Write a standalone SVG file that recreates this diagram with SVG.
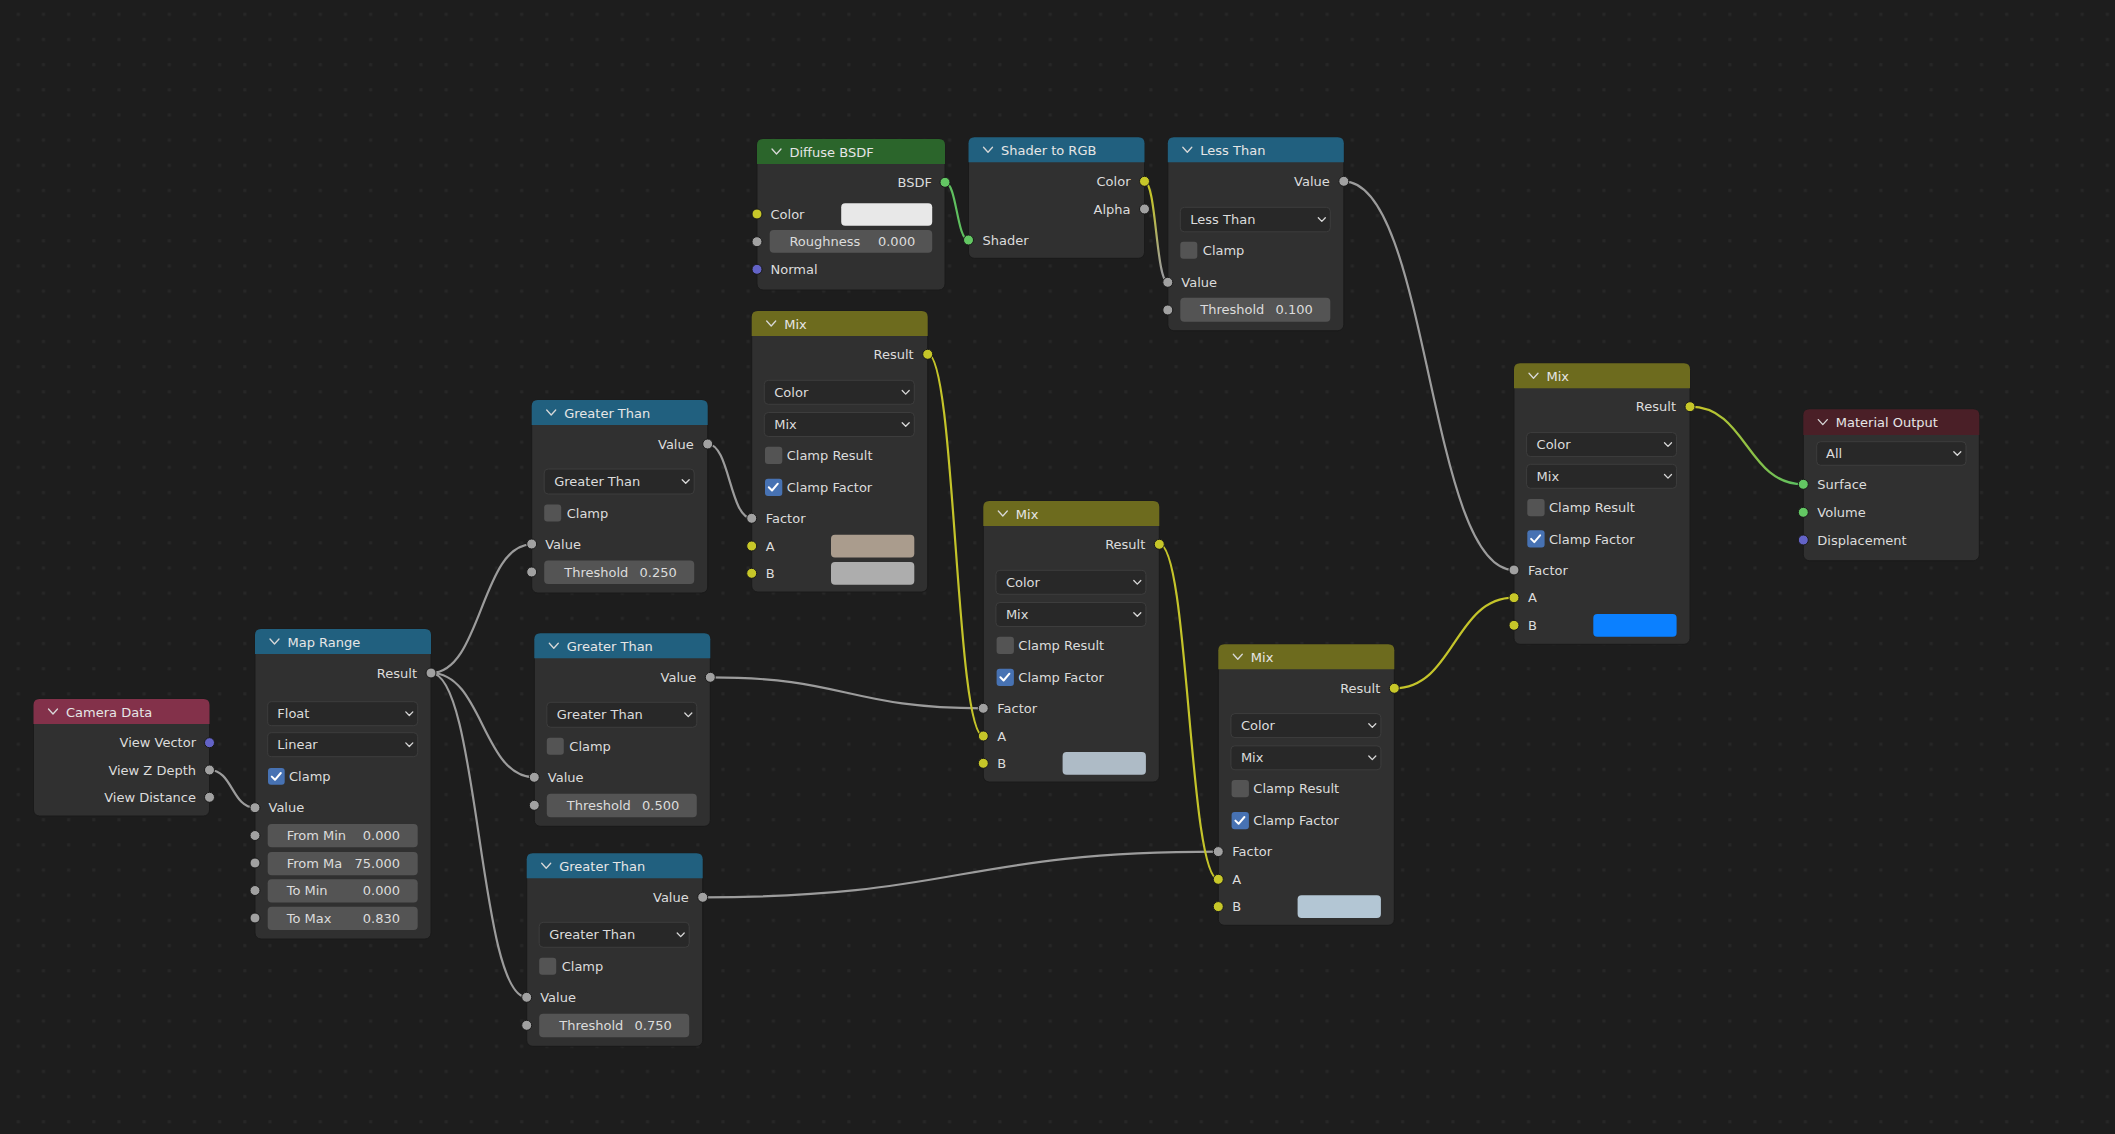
<svg xmlns="http://www.w3.org/2000/svg" width="2115" height="1134" viewBox="0 0 2115 1134">
<defs>
<style>
text{font-family:"DejaVu Sans","Liberation Sans",sans-serif;font-size:13px;fill:#dcdcdc}
.ht{fill:#e6e6e6}
.r{text-anchor:end}
.body{fill:#303030;stroke:#1a1a1a;stroke-width:1}
.hc{fill:#21607f}
.hi{fill:#83314a}
.hs{fill:#2b652b}
.hm{fill:#6d6b1e}
.ho{fill:#4a1f27}
.dd{fill:#282828;stroke:#3d3d3d;stroke-width:1}
.fld{fill:#545454}
.cb{fill:#545454}
.cbon{fill:#4772b3}
.ch{fill:none;stroke:#d8d8d8;stroke-width:1.3;stroke-linecap:round;stroke-linejoin:round}
.chk{fill:none;stroke:#ffffff;stroke-width:2;stroke-linecap:round;stroke-linejoin:round}
.s{stroke:#1a1a1a;stroke-width:1}
.sg{fill:#a1a1a1}
.sy{fill:#c7c729}
.sgn{fill:#63c763}
.sp{fill:#6363c7}
.lk{fill:none;stroke-width:2.2}
.lg{stroke:#9c9c9c}
.ly{stroke:#c4c42a}
.lgn{stroke:#5fbf5f}
</style>
<pattern id="grid" width="25.17" height="25.17" patternUnits="userSpaceOnUse"><rect x="16.8" y="12.8" width="3" height="3" fill="#272727"/></pattern>
<path id="chev" d="M-4.5,-2.5 L0,2.5 L4.5,-2.5"/>
<path id="ddc" d="M-3.5,-1.8 L0,1.8 L3.5,-1.8"/>
<path id="chkp" d="M3.8,8.6 L7,11.8 L12.8,5"/>
<linearGradient id="gYG" gradientUnits="userSpaceOnUse" x1="0" y1="195" x2="0" y2="272"><stop offset="0" stop-color="#c4c42a"/><stop offset="1" stop-color="#9c9c9c"/></linearGradient>
<linearGradient id="gYGn" gradientUnits="userSpaceOnUse" x1="1700" y1="0" x2="1795" y2="0"><stop offset="0" stop-color="#c4c42a"/><stop offset="1" stop-color="#5fbf5f"/></linearGradient>
</defs>
<rect width="2115" height="1134" fill="#1d1d1d"/>
<rect width="2115" height="1134" fill="url(#grid)"/>

<g id="connectors">
<path class="lk lg" d="M209.5,770 C232.5,770 232,807.7 255,807.7"/>
<path class="lk lg" d="M431,673 C481.4,673 481.3,544.3 531.7,544.3"/>
<path class="lk lg" d="M431,673 C482.7,673 482.6,777.3 534.3,777.3"/>
<path class="lk lg" d="M431,673 C478.9,673 478.8,997.3 526.7,997.3"/>
<path class="lk lg" d="M707.7,444 C729.7,444 729.7,518.3 751.7,518.3"/>
<path class="lk lg" d="M710.3,677.3 C846.8,677.3 846.8,708.3 983.3,708.3"/>
<path class="lk lg" d="M702.7,897.3 C960.5,897.3 960.5,851.7 1218.3,851.7"/>
<path class="lk ly" d="M927.7,354 C955.5,354 955.5,736 983.3,736"/>
<path class="lk ly" d="M1159.3,544 C1188.8,544 1188.8,879.3 1218.3,879.3"/>
<path class="lk ly" d="M1394.3,688.3 C1454.2,688.3 1454.2,597.7 1514,597.7"/>
<path class="lk lg" d="M1343.8,181.3 C1428.9,181.3 1428.9,570 1514,570"/>
<path class="lk lgn" d="M945,182.3 C956.75,182.3 956.75,240 968.5,240"/>
<path class="lk" stroke="url(#gYG)" d="M1144.5,181.3 C1156.2,181.3 1156.1,282.3 1167.8,282.3"/>
<path class="lk" stroke="url(#gYGn)" d="M1690,406.7 C1746.7,406.7 1746.6,484.3 1803.3,484.3"/>
</g>

<g id="camera-data" transform="translate(33.5,699)">
<rect class="body" width="176" height="117" rx="6"/>
<path class="hi" d="M0,25 V6 Q0,0 6,0 H170 Q176,0 176,6 V25 Z"/>
<use href="#chev" x="19.5" y="12.5" class="ch"/>
<text class="ht" x="32.5" y="17.5">Camera Data</text>
<text class="r" x="162.5" y="48.4">View Vector</text>
<circle class="s sp" cx="176" cy="43.7" r="5"/>
<text class="r" x="162.5" y="75.7">View Z Depth</text>
<circle class="s sg" cx="176" cy="71" r="5"/>
<text class="r" x="162.5" y="103">View Distance</text>
<circle class="s sg" cx="176" cy="98.3" r="5"/>
</g>

<g id="map-range" transform="translate(255,629)">
<rect class="body" width="176" height="310" rx="6"/>
<path class="hc" d="M0,25 V6 Q0,0 6,0 H170 Q176,0 176,6 V25 Z"/>
<use href="#chev" x="19.5" y="12.5" class="ch"/>
<text class="ht" x="32.5" y="17.5">Map Range</text>
<text class="r" x="162" y="48.7">Result</text>
<circle class="s sg" cx="176" cy="44" r="5"/>
<rect class="dd" x="12.7" y="72.7" width="150" height="24" rx="4"/>
<text x="22.3" y="89.2">Float</text>
<use href="#ddc" x="154.3" y="84.7" class="ch"/>
<rect class="dd" x="12.7" y="103.7" width="150" height="24" rx="4"/>
<text x="22.3" y="120.2">Linear</text>
<use href="#ddc" x="154.3" y="115.7" class="ch"/>
<rect class="cbon" x="13" y="139" width="16.7" height="16.7" rx="3"/>
<use href="#chkp" x="13" y="139" class="chk"/>
<text x="34" y="152">Clamp</text>
<circle class="s sg" cx="0" cy="178.7" r="5"/>
<text x="13.5" y="183.4">Value</text>
<rect class="fld" x="12.7" y="195" width="150" height="23.3" rx="4"/>
<text x="31.7" y="211">From Min</text><text class="r" x="145" y="211">0.000</text>
<circle class="s sg" cx="0" cy="206.5" r="5"/>
<rect class="fld" x="12.7" y="223" width="150" height="23.3" rx="4"/>
<text x="31.7" y="239">From Ma</text><text class="r" x="145" y="239">75.000</text>
<circle class="s sg" cx="0" cy="234" r="5"/>
<rect class="fld" x="12.7" y="250.3" width="150" height="23.3" rx="4"/>
<text x="31.7" y="266.3">To Min</text><text class="r" x="145" y="266.3">0.000</text>
<circle class="s sg" cx="0" cy="261.5" r="5"/>
<rect class="fld" x="12.7" y="277.7" width="150" height="23.3" rx="4"/>
<text x="31.7" y="293.7">To Max</text><text class="r" x="145" y="293.7">0.830</text>
<circle class="s sg" cx="0" cy="289" r="5"/>
</g>

<g id="greater-than-1" transform="translate(531.7,400)">
<rect class="body" width="176" height="193" rx="6"/>
<path class="hc" d="M0,25 V6 Q0,0 6,0 H170 Q176,0 176,6 V25 Z"/>
<use href="#chev" x="19.5" y="12.5" class="ch"/>
<text class="ht" x="32.5" y="17.5">Greater Than</text>
<text class="r" x="162" y="48.7">Value</text>
<circle class="s sg" cx="176" cy="44" r="5"/>
<rect class="dd" x="12.5" y="69" width="150" height="25" rx="4"/>
<text x="22.5" y="86.2">Greater Than</text>
<use href="#ddc" x="154" y="81.5" class="ch"/>
<rect class="cb" x="12.5" y="104.5" width="17" height="17" rx="3"/>
<text x="35" y="117.8">Clamp</text>
<circle class="s sg" cx="0" cy="144" r="5"/>
<text x="13.5" y="148.7">Value</text>
<rect class="fld" x="12.5" y="160.5" width="150" height="23.5" rx="4"/>
<text x="32.5" y="176.8">Threshold</text><text class="r" x="145" y="176.8">0.250</text>
<circle class="s sg" cx="0" cy="172" r="5"/>
</g>

<g id="greater-than-2" transform="translate(534.3,633.3)">
<rect class="body" width="176" height="193" rx="6"/>
<path class="hc" d="M0,25 V6 Q0,0 6,0 H170 Q176,0 176,6 V25 Z"/>
<use href="#chev" x="19.5" y="12.5" class="ch"/>
<text class="ht" x="32.5" y="17.5">Greater Than</text>
<text class="r" x="162" y="48.7">Value</text>
<circle class="s sg" cx="176" cy="44" r="5"/>
<rect class="dd" x="12.5" y="69" width="150" height="25" rx="4"/>
<text x="22.5" y="86.2">Greater Than</text>
<use href="#ddc" x="154" y="81.5" class="ch"/>
<rect class="cb" x="12.5" y="104.5" width="17" height="17" rx="3"/>
<text x="35" y="117.8">Clamp</text>
<circle class="s sg" cx="0" cy="144" r="5"/>
<text x="13.5" y="148.7">Value</text>
<rect class="fld" x="12.5" y="160.5" width="150" height="23.5" rx="4"/>
<text x="32.5" y="176.8">Threshold</text><text class="r" x="145" y="176.8">0.500</text>
<circle class="s sg" cx="0" cy="172" r="5"/>
</g>

<g id="greater-than-3" transform="translate(526.7,853.3)">
<rect class="body" width="176" height="193" rx="6"/>
<path class="hc" d="M0,25 V6 Q0,0 6,0 H170 Q176,0 176,6 V25 Z"/>
<use href="#chev" x="19.5" y="12.5" class="ch"/>
<text class="ht" x="32.5" y="17.5">Greater Than</text>
<text class="r" x="162" y="48.7">Value</text>
<circle class="s sg" cx="176" cy="44" r="5"/>
<rect class="dd" x="12.5" y="69" width="150" height="25" rx="4"/>
<text x="22.5" y="86.2">Greater Than</text>
<use href="#ddc" x="154" y="81.5" class="ch"/>
<rect class="cb" x="12.5" y="104.5" width="17" height="17" rx="3"/>
<text x="35" y="117.8">Clamp</text>
<circle class="s sg" cx="0" cy="144" r="5"/>
<text x="13.5" y="148.7">Value</text>
<rect class="fld" x="12.5" y="160.5" width="150" height="23.5" rx="4"/>
<text x="32.5" y="176.8">Threshold</text><text class="r" x="145" y="176.8">0.750</text>
<circle class="s sg" cx="0" cy="172" r="5"/>
</g>

<g id="diffuse-bsdf" transform="translate(757,139)">
<rect class="body" width="188" height="151" rx="6"/>
<path class="hs" d="M0,25 V6 Q0,0 6,0 H182 Q188,0 188,6 V25 Z"/>
<use href="#chev" x="19.5" y="12.5" class="ch"/>
<text class="ht" x="32.5" y="17.5">Diffuse BSDF</text>
<text class="r" x="175" y="48">BSDF</text>
<circle class="s sgn" cx="188" cy="43.3" r="5"/>
<circle class="s sy" cx="0" cy="75" r="5"/>
<text x="13.5" y="79.7">Color</text>
<rect x="84.2" y="64.3" width="91" height="22.4" rx="4" fill="#e8e8e8"/>
<rect class="fld" x="12.7" y="91" width="162.5" height="22.7" rx="4"/>
<text x="32.4" y="107">Roughness</text><text class="r" x="158.2" y="107">0.000</text>
<circle class="s sg" cx="0" cy="102.7" r="5"/>
<circle class="s sp" cx="0" cy="130.3" r="5"/>
<text x="13.5" y="135">Normal</text>
</g>

<g id="shader-to-rgb" transform="translate(968.5,137.3)">
<rect class="body" width="176" height="121" rx="6"/>
<path class="hc" d="M0,25 V6 Q0,0 6,0 H170 Q176,0 176,6 V25 Z"/>
<use href="#chev" x="19.5" y="12.5" class="ch"/>
<text class="ht" x="32.5" y="17.5">Shader to RGB</text>
<text class="r" x="162" y="48.7">Color</text>
<circle class="s sy" cx="176" cy="44" r="5"/>
<text class="r" x="162" y="76.4">Alpha</text>
<circle class="s sg" cx="176" cy="71.7" r="5"/>
<circle class="s sgn" cx="0" cy="102.7" r="5"/>
<text x="14" y="107.4">Shader</text>
</g>

<g id="less-than" transform="translate(1167.8,137.3)">
<rect class="body" width="176" height="193.4" rx="6"/>
<path class="hc" d="M0,25 V6 Q0,0 6,0 H170 Q176,0 176,6 V25 Z"/>
<use href="#chev" x="19.5" y="12.5" class="ch"/>
<text class="ht" x="32.5" y="17.5">Less Than</text>
<text class="r" x="162" y="48.7">Value</text>
<circle class="s sg" cx="176" cy="44" r="5"/>
<rect class="dd" x="12.5" y="70" width="150" height="24.5" rx="4"/>
<text x="22.5" y="87">Less Than</text>
<use href="#ddc" x="154" y="82.3" class="ch"/>
<rect class="cb" x="12.5" y="104.5" width="17" height="17" rx="3"/>
<text x="35" y="117.8">Clamp</text>
<circle class="s sg" cx="0" cy="145" r="5"/>
<text x="13.5" y="149.7">Value</text>
<rect class="fld" x="12.5" y="160.5" width="150" height="24" rx="4"/>
<text x="32.5" y="177.2">Threshold</text><text class="r" x="145" y="177.2">0.100</text>
<circle class="s sg" cx="0" cy="172.7" r="5"/>
</g>

<g id="mix-1" transform="translate(751.7,311)">
<rect class="body" width="176" height="281" rx="6"/>
<path class="hm" d="M0,25 V6 Q0,0 6,0 H170 Q176,0 176,6 V25 Z"/>
<use href="#chev" x="19.5" y="12.5" class="ch"/>
<text class="ht" x="32.5" y="17.5">Mix</text>
<text class="r" x="162" y="48">Result</text>
<circle class="s sy" cx="176" cy="43.3" r="5"/>
<rect class="dd" x="12.6" y="69.3" width="150" height="24" rx="4"/>
<text x="22.6" y="86">Color</text>
<use href="#ddc" x="154" y="81.3" class="ch"/>
<rect class="dd" x="12.6" y="101.5" width="150" height="24" rx="4"/>
<text x="22.6" y="118.2">Mix</text>
<use href="#ddc" x="154" y="113.5" class="ch"/>
<rect class="cb" x="13.3" y="135.7" width="17.3" height="17.3" rx="3"/>
<text x="35" y="149">Clamp Result</text>
<rect class="cbon" x="13.3" y="167.7" width="17.3" height="17.3" rx="3"/>
<use href="#chkp" x="13.3" y="167.7" class="chk"/>
<text x="35" y="181">Clamp Factor</text>
<circle class="s sg" cx="0" cy="207.3" r="5"/>
<text x="14" y="212">Factor</text>
<circle class="s sy" cx="0" cy="235" r="5"/>
<text x="14" y="239.7">A</text>
<rect x="79.3" y="223.7" width="83.3" height="22.7" rx="4" fill="#aa9c8d"/>
<circle class="s sy" cx="0" cy="262.3" r="5"/>
<text x="14" y="267">B</text>
<rect x="79.3" y="251" width="83.3" height="22.7" rx="4" fill="#adadad"/>
</g>

<g id="mix-2" transform="translate(983.3,501)">
<rect class="body" width="176" height="281" rx="6"/>
<path class="hm" d="M0,25 V6 Q0,0 6,0 H170 Q176,0 176,6 V25 Z"/>
<use href="#chev" x="19.5" y="12.5" class="ch"/>
<text class="ht" x="32.5" y="17.5">Mix</text>
<text class="r" x="162" y="48">Result</text>
<circle class="s sy" cx="176" cy="43.3" r="5"/>
<rect class="dd" x="12.6" y="69.3" width="150" height="24" rx="4"/>
<text x="22.6" y="86">Color</text>
<use href="#ddc" x="154" y="81.3" class="ch"/>
<rect class="dd" x="12.6" y="101.5" width="150" height="24" rx="4"/>
<text x="22.6" y="118.2">Mix</text>
<use href="#ddc" x="154" y="113.5" class="ch"/>
<rect class="cb" x="13.3" y="135.7" width="17.3" height="17.3" rx="3"/>
<text x="35" y="149">Clamp Result</text>
<rect class="cbon" x="13.3" y="167.7" width="17.3" height="17.3" rx="3"/>
<use href="#chkp" x="13.3" y="167.7" class="chk"/>
<text x="35" y="181">Clamp Factor</text>
<circle class="s sg" cx="0" cy="207.3" r="5"/>
<text x="14" y="212">Factor</text>
<circle class="s sy" cx="0" cy="235" r="5"/>
<text x="14" y="239.7">A</text>
<circle class="s sy" cx="0" cy="262.3" r="5"/>
<text x="14" y="267">B</text>
<rect x="79.3" y="251" width="83.3" height="22.7" rx="4" fill="#aebbc6"/>
</g>

<g id="mix-3" transform="translate(1218.3,644.3)">
<rect class="body" width="176" height="281" rx="6"/>
<path class="hm" d="M0,25 V6 Q0,0 6,0 H170 Q176,0 176,6 V25 Z"/>
<use href="#chev" x="19.5" y="12.5" class="ch"/>
<text class="ht" x="32.5" y="17.5">Mix</text>
<text class="r" x="162" y="48.7">Result</text>
<circle class="s sy" cx="176" cy="44" r="5"/>
<rect class="dd" x="12.6" y="69.3" width="150" height="24" rx="4"/>
<text x="22.6" y="86">Color</text>
<use href="#ddc" x="154" y="81.3" class="ch"/>
<rect class="dd" x="12.6" y="101.5" width="150" height="24" rx="4"/>
<text x="22.6" y="118.2">Mix</text>
<use href="#ddc" x="154" y="113.5" class="ch"/>
<rect class="cb" x="13.3" y="135.7" width="17.3" height="17.3" rx="3"/>
<text x="35" y="149">Clamp Result</text>
<rect class="cbon" x="13.3" y="167.7" width="17.3" height="17.3" rx="3"/>
<use href="#chkp" x="13.3" y="167.7" class="chk"/>
<text x="35" y="181">Clamp Factor</text>
<circle class="s sg" cx="0" cy="207.3" r="5"/>
<text x="14" y="212">Factor</text>
<circle class="s sy" cx="0" cy="235" r="5"/>
<text x="14" y="239.7">A</text>
<circle class="s sy" cx="0" cy="262.3" r="5"/>
<text x="14" y="267">B</text>
<rect x="79.3" y="251" width="83.3" height="22.7" rx="4" fill="#b3c6d4"/>
</g>

<g id="mix-4" transform="translate(1514,363.3)">
<rect class="body" width="176" height="281" rx="6"/>
<path class="hm" d="M0,25 V6 Q0,0 6,0 H170 Q176,0 176,6 V25 Z"/>
<use href="#chev" x="19.5" y="12.5" class="ch"/>
<text class="ht" x="32.5" y="17.5">Mix</text>
<text class="r" x="162" y="48">Result</text>
<circle class="s sy" cx="176" cy="43.4" r="5"/>
<rect class="dd" x="12.6" y="69.3" width="150" height="24" rx="4"/>
<text x="22.6" y="86">Color</text>
<use href="#ddc" x="154" y="81.3" class="ch"/>
<rect class="dd" x="12.6" y="101" width="150" height="24" rx="4"/>
<text x="22.6" y="117.7">Mix</text>
<use href="#ddc" x="154" y="113" class="ch"/>
<rect class="cb" x="13.3" y="135.7" width="17.3" height="17.3" rx="3"/>
<text x="35" y="149">Clamp Result</text>
<rect class="cbon" x="13.3" y="167" width="17.3" height="17.3" rx="3"/>
<use href="#chkp" x="13.3" y="167" class="chk"/>
<text x="35" y="180.4">Clamp Factor</text>
<circle class="s sg" cx="0" cy="206.7" r="5"/>
<text x="14" y="211.4">Factor</text>
<circle class="s sy" cx="0" cy="234.4" r="5"/>
<text x="14" y="239.1">A</text>
<circle class="s sy" cx="0" cy="262" r="5"/>
<text x="14" y="266.7">B</text>
<rect x="79.3" y="250.7" width="83.3" height="22.7" rx="4" fill="#0b80ff"/>
</g>

<g id="material-output" transform="translate(1803.3,409.3)">
<rect class="body" width="176" height="151.4" rx="6"/>
<path class="ho" d="M0,25.7 V6 Q0,0 6,0 H170 Q176,0 176,6 V25.7 Z"/>
<use href="#chev" x="19.5" y="12.8" class="ch"/>
<text class="ht" x="32.5" y="17.8">Material Output</text>
<rect class="dd" x="13.4" y="32.4" width="149.3" height="23.6" rx="4"/>
<text x="22.7" y="48.8">All</text>
<use href="#ddc" x="154" y="44.2" class="ch"/>
<circle class="s sgn" cx="0" cy="75" r="5"/>
<text x="14" y="79.7">Surface</text>
<circle class="s sgn" cx="0" cy="103" r="5"/>
<text x="14" y="107.7">Volume</text>
<circle class="s sp" cx="0" cy="130.7" r="5"/>
<text x="14" y="135.4">Displacement</text>
</g>
</svg>
